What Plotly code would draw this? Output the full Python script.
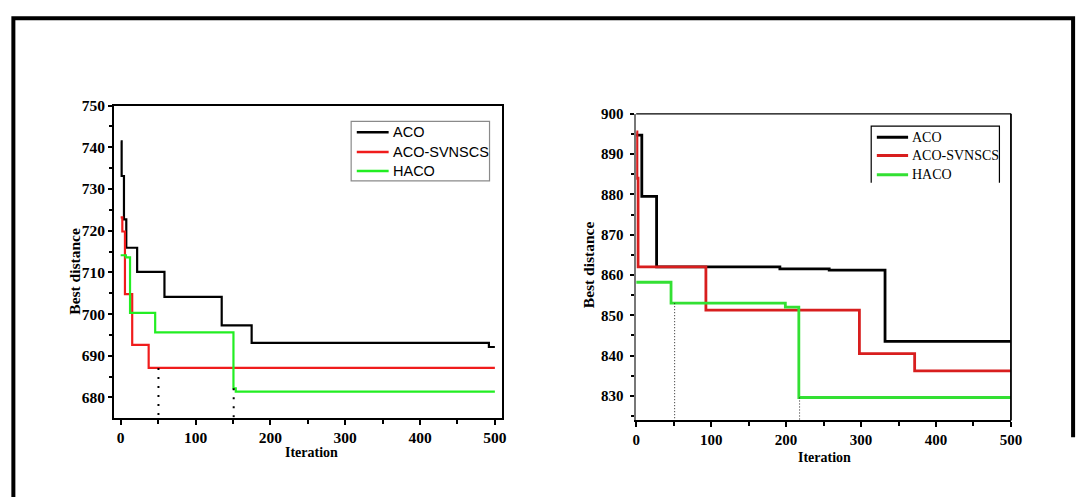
import plotly.graph_objects as go

W, H = 1091, 500

series_names = ["ACO", "ACO-SVNSCS", "HACO"]

# ---- Left chart data (iteration at which the best distance changes) ----
left_aco_iter = [0, 1.3, 4.4, 7.5, 22, 58.5, 135, 175, 492, 500]
left_aco_best = [741.4, 733.1, 722.7, 715.9, 710.1, 704.1, 697.3, 693.1, 692.1, 692.1]
left_svn_iter = [0, 2.2, 5.7, 15.4, 37.4, 500]
left_svn_best = [723.2, 719.8, 704.8, 692.6, 687.1, 687.1]
left_haco_iter = [0, 7, 12.5, 46.1, 150.7, 153.8, 500]
left_haco_best = [714.1, 713.6, 700.3, 695.6, 682.2, 681.4, 681.4]
left_mark_iter = [50.5, 151]
left_mark_best = [687.1, 682.2]

# ---- Right chart data ----
right_aco_iter = [0, 7.5, 27.2, 191.7, 257.5, 332, 500]
right_aco_best = [894.7, 879.5, 862.0, 861.5, 861.2, 843.5, 843.5]
right_svn_iter = [0, 1, 2.5, 93, 297.8, 371.5, 500]
right_svn_best = [895.5, 884.0, 862.0, 851.3, 840.5, 836.2, 836.2]
right_haco_iter = [0, 46.5, 199, 217, 500]
right_haco_best = [858.2, 853.0, 852.0, 829.6, 829.6]
right_mark_iter = [51.3, 218]
right_mark_best = [853.0, 829.6]

left_x_ticks = [0, 100, 200, 300, 400, 500]
left_y_ticks = [680, 690, 700, 710, 720, 730, 740, 750]
right_x_ticks = [0, 100, 200, 300, 400, 500]
right_y_ticks = [830, 840, 850, 860, 870, 880, 890, 900]

LEFT_YMIN, LEFT_YMAX = 675.2, 750
RIGHT_YMIN, RIGHT_YMAX = 823.9, 900

left_colors = ["#000000", "#f01c1c", "#22ee22"]
right_colors = ["#000000", "#d81e1e", "#33e033"]


def px(x):
    return x / W


def py(y):
    return 1 - y / H


def bold(vals):
    return [f"<b>{v}</b>" for v in vals]


fig = go.Figure()

for it, best, name, col in zip(
    [left_aco_iter, left_svn_iter, left_haco_iter],
    [left_aco_best, left_svn_best, left_haco_best],
    series_names, left_colors):
    fig.add_trace(go.Scatter(x=it, y=best, mode="lines", name=name,
                             line=dict(color=col, width=2.2, shape="hv"),
                             xaxis="x", yaxis="y", showlegend=False))
for xi, yi in zip(left_mark_iter, left_mark_best):
    fig.add_trace(go.Scatter(x=[xi, xi], y=[yi, LEFT_YMIN], mode="lines",
                             line=dict(color="black", width=2, dash="2px,7px"),
                             xaxis="x", yaxis="y", showlegend=False, hoverinfo="skip"))

for it, best, name, col in zip(
    [right_aco_iter, right_svn_iter, right_haco_iter],
    [right_aco_best, right_svn_best, right_haco_best],
    series_names, right_colors):
    fig.add_trace(go.Scatter(x=it, y=best, mode="lines", name=name,
                             line=dict(color=col, width=2.8, shape="hv"),
                             xaxis="x2", yaxis="y2", showlegend=False))
for xi, yi in zip(right_mark_iter, right_mark_best):
    fig.add_trace(go.Scatter(x=[xi, xi], y=[yi, RIGHT_YMIN], mode="lines",
                             line=dict(color="#222222", width=1, dash="1px,2px"),
                             xaxis="x2", yaxis="y2", showlegend=False, hoverinfo="skip"))

tick_font_l = dict(family="Liberation Serif", size=15.5, color="black")
tick_font_r = dict(family="Liberation Serif", size=15, color="black")

common = dict(showgrid=False, zeroline=False, ticks="outside", tickcolor="black",
              fixedrange=True, tickmode="array")

fig.update_layout(
    width=W, height=H,
    margin=dict(l=0, r=0, t=0, b=0),
    paper_bgcolor="white", plot_bgcolor="white",
    hovermode=False,
    xaxis=dict(domain=[px(111.7), px(505)], range=[-8.7, 509.6], anchor="y",
               tickvals=left_x_ticks, ticktext=bold(left_x_ticks), ticklen=5, tickwidth=1.5,
               minor=dict(tickvals=[50, 150, 250, 350, 450], ticklen=4, ticks="outside",
                          tickcolor="black", tickwidth=1.5),
               showline=True, linecolor="black", linewidth=2, mirror=True,
               tickfont=tick_font_l, **common),
    yaxis=dict(domain=[py(416), py(98.3)], range=[LEFT_YMIN, LEFT_YMAX], anchor="x",
               tickvals=left_y_ticks, ticktext=bold(left_y_ticks), ticklen=4, tickwidth=1.5,
               minor=dict(tickvals=[685, 695, 705, 715, 725, 735, 745], ticklen=3,
                          ticks="outside", tickcolor="black", tickwidth=1.5),
               showline=True, linecolor="black", linewidth=2, mirror=True,
               tickfont=tick_font_l, **common),
    xaxis2=dict(domain=[px(641), px(1021)], range=[0, 500], anchor="y2",
                tickvals=right_x_ticks, ticktext=bold(right_x_ticks), ticklen=5, tickwidth=1.5,
                minor=dict(tickvals=[50, 150, 250, 350, 450], ticklen=4, ticks="outside",
                           tickcolor="black", tickwidth=1.5),
                showline=True, linecolor="black", linewidth=2, mirror=False,
                tickfont=tick_font_r, **common),
    yaxis2=dict(domain=[py(419), py(106.7)], range=[RIGHT_YMIN, RIGHT_YMAX], anchor="x2",
                tickvals=right_y_ticks, ticktext=bold(right_y_ticks), ticklen=4, tickwidth=1.5,
                minor=dict(tickvals=[825, 835, 845, 855, 865, 875, 885, 895], ticklen=3,
                           ticks="outside", tickcolor="black", tickwidth=1.5),
                showline=True, linecolor="#777777", linewidth=1.5, mirror=False,
                ticklabelstandoff=4,
                tickfont=tick_font_r, **common),
)

shapes = []
# outer frame
shapes.append(dict(type="path", xref="paper", yref="paper",
                   path=f"M {px(9.5)},{py(497)} L {px(9.5)},{py(9.5)} L {px(1084)},{py(9.5)} L {px(1084)},{py(436)}",
                   line=dict(color="black", width=4)))
# right chart top and right borders
shapes.append(dict(type="line", xref="x2 domain", yref="y2 domain", x0=0, x1=1, y0=1, y1=1,
                   line=dict(color="black", width=1.2)))
shapes.append(dict(type="line", xref="x2 domain", yref="y2 domain", x0=1, x1=1, y0=0, y1=1,
                   line=dict(color="black", width=1.8)))

# left legend box
shapes.append(dict(type="rect", xref="paper", yref="paper",
                   x0=px(352), x1=px(492.3), y0=py(175), y1=py(114.5),
                   line=dict(color="#8a8a8a", width=1.2), fillcolor="white", layer="above"))
# right legend box (open bottom)
shapes.append(dict(type="path", xref="paper", yref="paper",
                   path=f"M {px(879.3)},{py(177)} L {px(879.3)},{py(119.3)} L {px(1009.3)},{py(119.3)} L {px(1009.3)},{py(177)}",
                   line=dict(color="black", width=1.2), fillcolor="rgba(0,0,0,0)"))

annotations = []
left_rows = [125.5, 145.5, 165]
for name, col, ry in zip(series_names, left_colors, left_rows):
    shapes.append(dict(type="line", xref="paper", yref="paper",
                       x0=px(357.7), x1=px(390), y0=py(ry), y1=py(ry),
                       line=dict(color=col, width=2.5)))
    annotations.append(dict(x=px(392.5), y=py(ry), xref="paper", yref="paper",
                            text=name, showarrow=False, xanchor="left", yanchor="middle",
                            font=dict(family="Liberation Sans", size=14.5, color="black")))
right_rows = [130.7, 149.3, 168.7]
for name, col, ry in zip(series_names, right_colors, right_rows):
    shapes.append(dict(type="line", xref="paper", yref="paper",
                       x0=px(885), x1=px(916.7), y0=py(ry), y1=py(ry),
                       line=dict(color=col, width=3)))
    annotations.append(dict(x=px(919), y=py(ry), xref="paper", yref="paper",
                            text=name, showarrow=False, xanchor="left", yanchor="middle",
                            font=dict(family="Liberation Serif", size=14, color="black")))

title_font = dict(family="Liberation Serif", size=15.5, color="black")
annotations += [
    dict(x=px(72), y=py(267.5), xref="paper", yref="paper", text="<b>Best distance</b>",
         textangle=-90, showarrow=False, xanchor="center", yanchor="middle", font=title_font),
    dict(x=px(592), y=py(260), xref="paper", yref="paper", text="<b>Best distance</b>",
         textangle=-90, showarrow=False, xanchor="center", yanchor="middle", font=title_font),
    dict(x=px(312), y=py(452), xref="paper", yref="paper", text="<b>Iteration</b>",
         showarrow=False, xanchor="center", yanchor="middle",
         font=dict(family="Liberation Serif", size=14, color="black")),
    dict(x=px(832), y=py(457), xref="paper", yref="paper", text="<b>Iteration</b>",
         showarrow=False, xanchor="center", yanchor="middle",
         font=dict(family="Liberation Serif", size=14, color="black")),
]

fig.update_layout(shapes=shapes, annotations=annotations)
fig.write_html("out.html",
               config={"displayModeBar": False},
               post_script="document.body.style.margin='0px';document.body.style.overflow='hidden';")
